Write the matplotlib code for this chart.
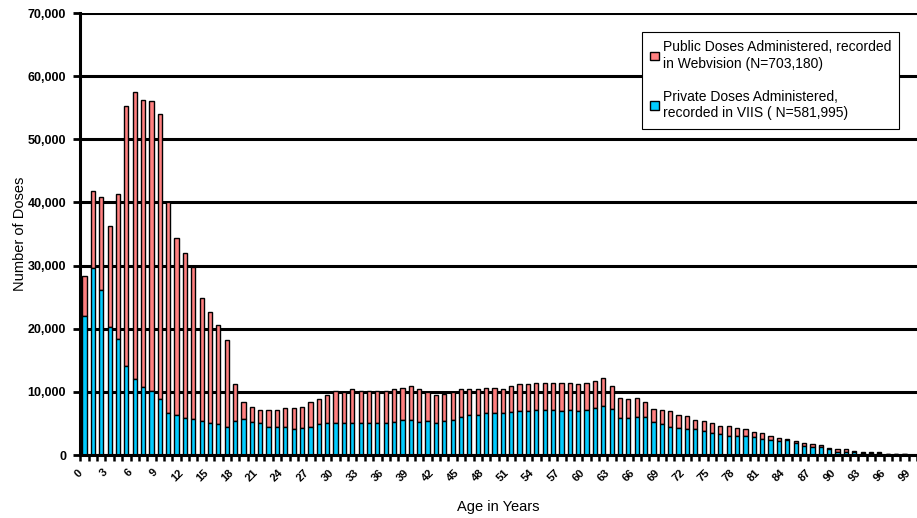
#Doses administered by age, public vs private

#importing libraries
import matplotlib
matplotlib.use('Agg')
import matplotlib.pyplot as plt
import numpy as np

plt.rcParams['font.family'] = ['Liberation Sans', 'DejaVu Sans']

#defining data (ages 0 to 99)
ages = list(range(100))

#total height of each stacked bar (public + private)
total = [
    28300, 41800, 40800, 36300, 41300, 55300, 57500, 56200, 56000, 54000,   # 0-9
    40000, 34400, 32000, 29800, 24800, 22600, 20600, 18200, 11200, 8400,    # 10-19
    7600, 7200, 7100, 7200, 7400, 7450, 7600, 8400, 8900, 9450,             # 20-29
    10150, 9950, 10420, 10150, 10150, 10150, 10150, 10500, 10650, 11000,    # 30-39
    10420, 9900, 9500, 9700, 9900, 10420, 10420, 10420, 10650, 10550,       # 40-49
    10420, 10950, 11300, 11300, 11450, 11450, 11450, 11450, 11450, 11200,   # 50-59
    11450, 11750, 12250, 11000, 8950, 8800, 8950, 8420, 7260, 7150,         # 60-69
    6920, 6400, 6200, 5600, 5420, 5120, 4620, 4560, 4220, 4150,             # 70-79
    3690, 3420, 3060, 2640, 2480, 2270, 1850, 1690, 1580, 1160,             # 80-89
    900, 900, 630, 420, 420, 420, 200, 150, 100, 50]                        # 90-99

#private doses (blue, bottom part)
private = [
    22000, 29600, 26100, 20300, 18300, 14100, 12000, 10800, 10200, 8900,    # 0-9
    6600, 6300, 5850, 5650, 5400, 5100, 4850, 4500, 5400, 5650,             # 10-19
    5300, 5100, 4500, 4400, 4400, 4050, 4350, 4500, 4850, 5100,             # 20-29
    5100, 5100, 5100, 5100, 5100, 5100, 5100, 5270, 5540, 5540,             # 30-39
    5270, 5350, 5100, 5400, 5540, 6060, 6330, 6330, 6600, 6600,             # 40-49
    6600, 6860, 7000, 7000, 7200, 7200, 7200, 7000, 7200, 7000,             # 50-59
    7200, 7380, 7780, 7240, 5800, 5800, 6060, 6060, 5160, 4900,             # 60-69
    4480, 4320, 4060, 4060, 3850, 3530, 3320, 3060, 3060, 3000,             # 70-79
    2780, 2550, 2370, 2270, 2300, 1950, 1480, 1320, 1320, 1000,             # 80-89
    530, 530, 500, 350, 350, 350, 150, 100, 80, 40]                         # 90-99

#public doses sit on top of the private ones
public = [t - p for t, p in zip(total, private)]

yticks = [0, 10000, 20000, 30000, 40000, 50000, 60000, 70000]
ytick_labels = ['0', '10,000', '20,000', '30,000', '40,000', '50,000', '60,000', '70,000']
xticks = list(range(0, 100, 3))

public_label = 'Public Doses Administered, recorded\nin Webvision (N=703,180)'
private_label = 'Private Doses Administered,\nrecorded in VIIS ( N=581,995)'

#setting up the figure
fig = plt.figure(figsize=(9.17, 5.18), dpi=100)
ax = fig.add_axes([80/917, 63/518, 837/917, 442/518])

#plotting the stacked bars
ax.bar(ages, public, bottom=private, width=0.5, color='#FF8080',
       edgecolor='black', linewidth=1.0, label=public_label)
ax.bar(ages, private, width=0.5, color='#00CCFF',
       edgecolor='black', linewidth=1.0, label=private_label)

#setting axis ranges
ax.set_ylim(0, 70000)
ax.set_xlim(-0.54, 99.1)

#gridlines and spines
ax.set_axisbelow(True)
ax.yaxis.grid(True, color='black', linewidth=2.2)
ax.spines['top'].set_visible(False)
ax.spines['right'].set_visible(False)
ax.spines['left'].set_linewidth(2.2)
ax.spines['bottom'].set_linewidth(2.2)

#ticks
ax.set_yticks(yticks)
ax.set_yticklabels(ytick_labels, fontsize=9, fontweight='bold')
ax.tick_params(axis='y', direction='out', length=5, width=2, pad=5)
ax.set_xticks(xticks)
ax.set_xticklabels([str(a) for a in xticks], rotation=45, ha='right',
                   fontsize=8, fontweight='bold')
ax.set_xticks(np.arange(-0.5, 100, 1), minor=True)
ax.tick_params(axis='x', which='major', length=0, pad=9)
ax.tick_params(axis='x', which='minor', direction='out', length=4, width=1.8)

#naming the axes
ax.set_ylabel('Number of Doses', fontsize=10.5)
ax.yaxis.set_label_coords(-0.063, 0.5)
ax.set_xlabel('Age in Years', fontsize=10.5, labelpad=12)

#legend
leg = ax.legend(loc='upper right', bbox_to_anchor=(0.979, 0.957), fontsize=10,
                frameon=True, fancybox=False, edgecolor='black', framealpha=1,
                handlelength=0.6, handleheight=0.6, handletextpad=0.3,
                labelspacing=1.4, borderpad=0.6, borderaxespad=0)
leg.get_frame().set_linewidth(0.8)

plt.savefig('out.png', dpi=100)
